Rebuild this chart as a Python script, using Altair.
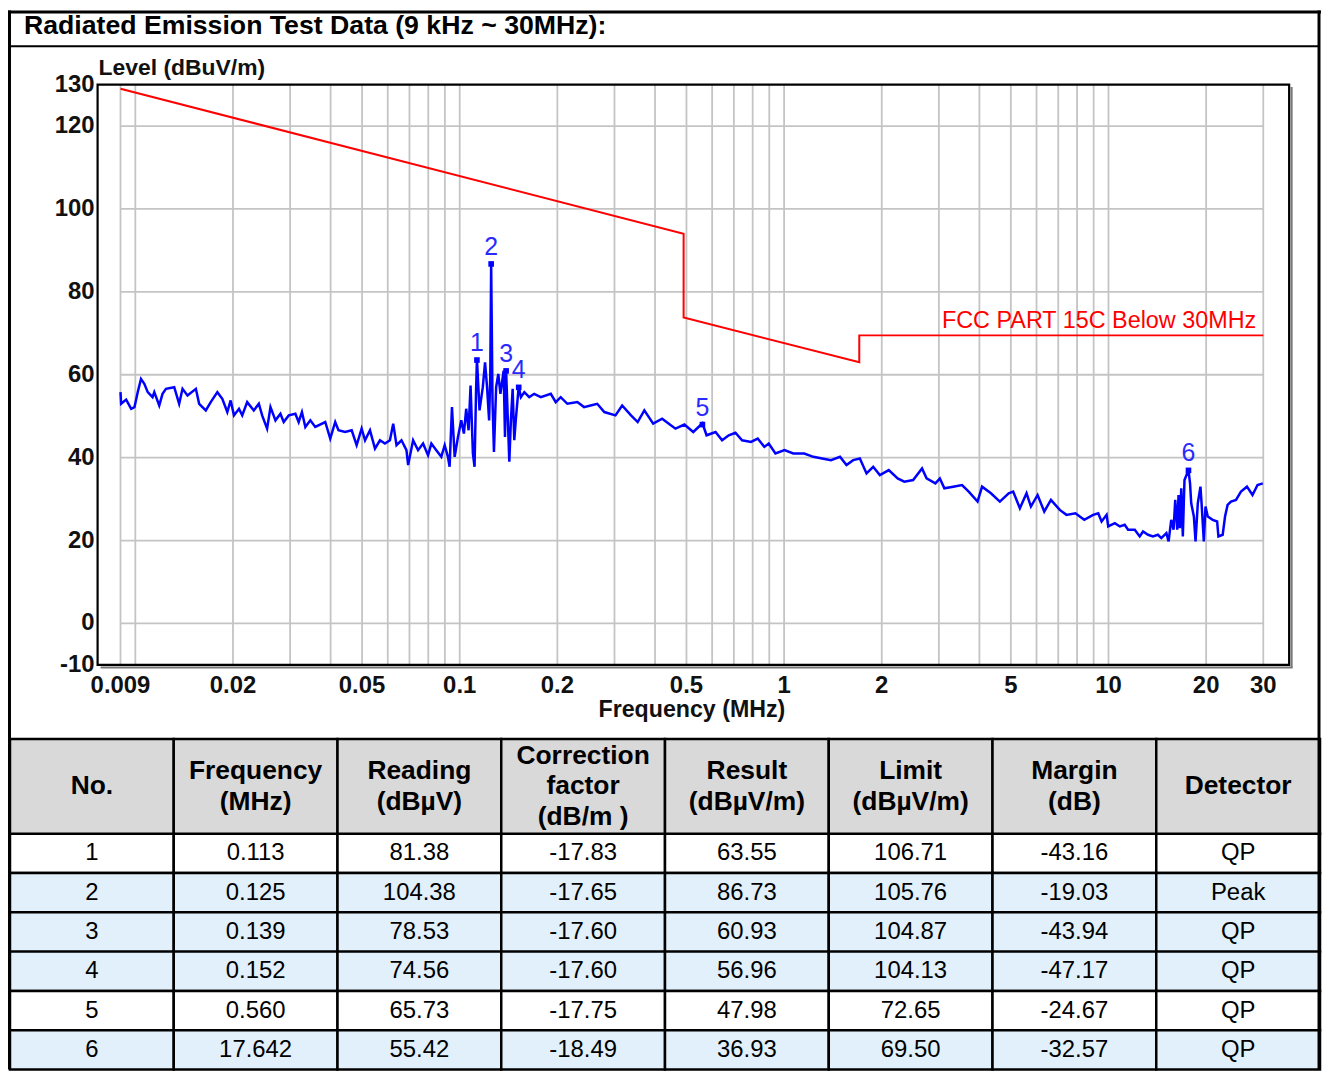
import altair as alt
import pandas as pd

# ---------------- data ----------------
trace_freq = [
    0.009, 0.00904, 0.00937, 0.00971, 0.00994, 0.01017, 0.01041, 0.01066, 0.01092, 0.0113,
    0.01144, 0.01185, 0.01213, 0.01243, 0.01318, 0.01365, 0.01398, 0.01448, 0.01537, 0.01573,
    0.01649, 0.01708, 0.0179, 0.01854, 0.01921, 0.01967, 0.02014, 0.02087, 0.02136, 0.02212,
    0.02319, 0.02403, 0.0246, 0.02548, 0.0261, 0.02704, 0.02801, 0.02867, 0.02971, 0.03114,
    0.03188, 0.03263, 0.03343, 0.03463, 0.03587, 0.0385, 0.03989, 0.04132, 0.04229, 0.04433,
    0.04645, 0.04811, 0.04985, 0.05107, 0.05289, 0.0548, 0.05677, 0.05882, 0.06093, 0.06237,
    0.06385, 0.06614, 0.06852, 0.06934, 0.07183, 0.07441, 0.07709, 0.07986, 0.08177, 0.08469,
    0.08775, 0.08988, 0.09198, 0.09307, 0.09464, 0.09648, 0.09876, 0.1011, 0.103, 0.1047,
    0.1065, 0.108, 0.1098, 0.1111, 0.1123, 0.113, 0.1151, 0.1178, 0.1197, 0.1214,
    0.1232, 0.1242, 0.125, 0.1262, 0.1275, 0.1295, 0.1315, 0.1335, 0.1366, 0.1379,
    0.139, 0.1422, 0.1438, 0.1456, 0.1473, 0.149, 0.152, 0.1544, 0.1582, 0.1638,
    0.1697, 0.1778, 0.1909, 0.1977, 0.2048, 0.2147, 0.2305, 0.2417, 0.2532, 0.2654,
    0.2791, 0.3021, 0.3168, 0.3373, 0.3537, 0.3708, 0.3948, 0.4208, 0.4412, 0.4625,
    0.4927, 0.5247, 0.56, 0.5768, 0.6147, 0.644, 0.6752, 0.7079, 0.7421, 0.7907,
    0.8292, 0.8694, 0.8967, 0.9405, 1.0026, 1.0674, 1.154, 1.2303, 1.3095, 1.395,
    1.487, 1.557, 1.633, 1.712, 1.795, 1.882, 1.973, 2.102, 2.239, 2.347,
    2.499, 2.662, 2.749, 2.927, 3.021, 3.119, 3.321, 3.536, 3.708, 3.948,
    4.076, 4.341, 4.625, 4.925, 5.084, 5.331, 5.589, 5.766, 6.046, 6.338,
    6.646, 7.077, 7.421, 7.907, 8.42, 8.967, 9.297, 9.522, 9.866, 9.98,
    10.46, 10.84, 11.22, 11.49, 12.05, 12.48, 12.78, 13.24, 13.71, 14.2,
    14.55, 15.08, 15.32, 15.61, 15.87, 16.06, 16.29, 16.44, 16.6, 16.76,
    16.95, 17.15, 17.642, 17.84, 17.99, 18.33, 18.55, 18.85, 19.21, 19.39,
    19.67, 19.91, 20.23, 20.95, 21.62, 21.82, 22.49, 22.87, 23.29, 23.86,
    24.72, 25.61, 26.72, 27.79, 28.8, 29.9,
]
trace_level = [
    55.8, 53.0, 54.0, 51.8, 52.2, 55.8, 59.0, 57.8, 55.8, 54.6,
    55.8, 52.6, 55.4, 56.6, 57.0, 53.0, 56.6, 55.0, 56.6, 53.0,
    51.4, 53.4, 55.8, 54.2, 51.0, 53.8, 50.2, 51.8, 50.2, 53.4,
    51.4, 53.0, 50.2, 47.0, 52.2, 49.0, 50.6, 48.6, 50.2, 50.6,
    48.6, 51.0, 47.4, 49.0, 47.4, 48.6, 44.6, 48.6, 46.6, 46.2,
    46.6, 43.0, 47.0, 44.2, 46.6, 42.2, 44.2, 43.4, 44.2, 48.2,
    43.0, 44.2, 41.8, 38.2, 44.2, 41.8, 43.4, 40.6, 43.4, 41.8,
    40.2, 43.0, 40.2, 37.8, 52.2, 40.2, 45.0, 49.0, 45.8, 51.8,
    46.6, 57.4, 41.0, 37.8, 56.2, 63.8, 51.4, 57.0, 63.0, 57.0,
    49.0, 59.4, 86.7, 53.8, 41.4, 57.0, 60.2, 55.4, 61.0, 45.0,
    61.0, 39.0, 49.0, 56.6, 44.2, 49.4, 57.2, 54.6, 55.8, 54.6,
    55.4, 54.6, 55.4, 53.4, 54.6, 53.0, 53.4, 52.2, 52.6, 53.0,
    51.0, 50.2, 52.6, 50.2, 48.6, 51.4, 48.2, 49.4, 48.2, 47.0,
    48.0, 46.2, 48.3, 45.4, 46.2, 44.2, 45.4, 46.0, 44.2, 43.8,
    44.6, 42.6, 43.4, 41.0, 41.8, 41.0, 41.0, 40.2, 39.8, 39.4,
    40.2, 38.2, 39.4, 39.8, 36.2, 37.8, 35.8, 37.0, 35.0, 34.2,
    34.6, 37.4, 35.0, 33.8, 35.0, 32.6, 33.0, 33.4, 31.8, 29.4,
    33.0, 31.4, 29.4, 31.4, 31.8, 27.8, 31.4, 28.2, 31.0, 27.0,
    29.8, 27.4, 26.2, 26.6, 25.0, 26.2, 26.6, 24.6, 26.2, 23.4,
    24.2, 23.4, 23.8, 22.6, 22.6, 21.0, 22.2, 21.4, 21.0, 21.4,
    20.6, 21.8, 19.8, 25.0, 22.6, 29.8, 22.6, 31.0, 23.0, 32.6,
    21.0, 34.6, 37.0, 33.8, 29.0, 25.8, 19.8, 29.0, 33.0, 28.2,
    19.8, 28.2, 25.8, 25.0, 24.6, 21.0, 21.4, 25.8, 28.6, 29.4,
    29.8, 31.8, 33.0, 31.0, 33.4, 33.8,
]

limit_freq = [0.009, 0.49, 0.49, 1.705, 1.705, 30]
limit_level = [129.0, 94.0, 73.8, 63.0, 69.5, 69.5]
limit_name = "FCC PART 15C Below 30MHz"

marker_no = ["1", "2", "3", "4", "5", "6"]
marker_freq = [0.113, 0.125, 0.139, 0.152, 0.560, 17.642]
marker_result = [63.55, 86.73, 60.93, 56.96, 47.98, 36.93]

x_ticks = [0.009, 0.02, 0.05, 0.1, 0.2, 0.5, 1, 2, 5, 10, 20, 30]
x_tick_labels = ["0.009", "0.02", "0.05", "0.1", "0.2", "0.5", "1", "2", "5", "10", "20", "30"]
y_ticks = [130, 120, 100, 80, 60, 40, 20, 0, -10]
x_grid = [0.009, 0.01, 0.02, 0.03, 0.04, 0.05, 0.06, 0.07, 0.08, 0.09,
          0.1, 0.2, 0.3, 0.4, 0.5, 0.6, 0.7, 0.8, 0.9,
          1, 2, 3, 4, 5, 6, 7, 8, 9, 10, 20, 30]
y_grid = [-10, 0, 20, 40, 60, 80, 100, 120]

title_text = "Radiated Emission Test Data (9 kHz ~ 30MHz):"
y_title = "Level (dBuV/m)"
x_title = "Frequency (MHz)"

table_header = ["No.", "Frequency\n(MHz)", "Reading\n(dBµV)", "Correction\nfactor\n(dB/m )",
                "Result\n(dBµV/m)", "Limit\n(dBµV/m)", "Margin\n(dB)", "Detector"]
t_no = ["1", "2", "3", "4", "5", "6"]
t_freq = ["0.113", "0.125", "0.139", "0.152", "0.560", "17.642"]
t_reading = ["81.38", "104.38", "78.53", "74.56", "65.73", "55.42"]
t_corr = ["-17.83", "-17.65", "-17.60", "-17.60", "-17.75", "-18.49"]
t_result = ["63.55", "86.73", "60.93", "56.96", "47.98", "36.93"]
t_limit = ["106.71", "105.76", "104.87", "104.13", "72.65", "69.50"]
t_margin = ["-43.16", "-19.03", "-43.94", "-47.17", "-24.67", "-32.57"]
t_det = ["QP", "Peak", "QP", "QP", "QP", "QP"]

# ---------------- styles / layout ----------------
W, H = 1320, 1064
ARIAL = "Liberation Sans, Arial, sans-serif"
BLUE = "#0000ff"
RED = "#ff0000"
GRID = "#c4c4c4"
INK = "#111111"
ROW_FILLS = ["#ffffff", "#e1f0fb", "#e1f0fb", "#e1f0fb", "#ffffff", "#e1f0fb"]

XS = alt.Scale(type="log", domain=[0.009, 30], range=[113, 1261], nice=False)
YS = alt.Scale(domain=[-10, 130], range=[657.5, 74.5], nice=False, zero=False)
ONE = pd.DataFrame({"a": [0]})


def hrule(y, x1, x2, w, color="black"):
    return alt.Chart(ONE).mark_rule(color=color, strokeWidth=w).encode(
        x=alt.value(x1), x2=alt.value(x2), y=alt.value(y))


def vrule(x, y1, y2, w, color="black"):
    return alt.Chart(ONE).mark_rule(color=color, strokeWidth=w).encode(
        x=alt.value(x), y=alt.value(y1), y2=alt.value(y2))


# ---------------- plot ----------------
trace_df = pd.DataFrame({"f": trace_freq, "v": trace_level})
limit_df = pd.DataFrame({"f": limit_freq, "v": limit_level, "i": range(len(limit_freq))})
marker_df = pd.DataFrame({"f": marker_freq, "v": marker_result, "no": marker_no})
xg_df = pd.DataFrame({"f": x_grid, "lo": -10, "hi": 130})
yg_df = pd.DataFrame({"v": y_grid, "f0": 0.009, "f1": 30})
xt_df = pd.DataFrame({"f": x_ticks, "label": x_tick_labels})
yt_df = pd.DataFrame({"v": y_ticks, "label": [str(t) for t in y_ticks]})
fcc_df = pd.DataFrame({"f": [30], "v": [69.5], "label": [limit_name]})

X = lambda fld: alt.X(fld, scale=XS, axis=None)
Y = lambda fld: alt.Y(fld, scale=YS, axis=None)

frame_bg = alt.Chart(ONE).mark_rect(fill="white").encode(
    x=alt.value(90), x2=alt.value(1287), y=alt.value(74.5), y2=alt.value(657.5))

grid_v = alt.Chart(xg_df).mark_rule(color=GRID, strokeWidth=1.8).encode(
    x=X("f:Q"), y=Y("lo:Q"), y2="hi:Q")
grid_h = alt.Chart(yg_df).mark_rule(color=GRID, strokeWidth=1.8).encode(
    x=X("f0:Q"), x2="f1:Q", y=Y("v:Q"))

limit_line = alt.Chart(limit_df).mark_line(color=RED, strokeWidth=2).encode(
    x=X("f:Q"), y=Y("v:Q"), order="i:Q")
trace_line = alt.Chart(trace_df).mark_line(color=BLUE, strokeWidth=2.5, strokeJoin="miter").encode(
    x=X("f:Q"), y=Y("v:Q"))
markers = alt.Chart(marker_df).mark_square(color=BLUE, size=32, opacity=1).encode(
    x=X("f:Q"), y=Y("v:Q"))
marker_labels = alt.Chart(marker_df).mark_text(
    font=ARIAL, fontSize=25, color="#2a2aff", dy=-17, baseline="middle").encode(
    x=X("f:Q"), y=Y("v:Q"), text="no:N")
fcc_label = alt.Chart(fcc_df).mark_text(
    font=ARIAL, fontSize=23.5, color=RED, align="right", baseline="alphabetic", dx=-7, dy=-7).encode(
    x=X("f:Q"), y=Y("v:Q"), text="label:N")
x_labels = alt.Chart(xt_df).mark_text(
    font=ARIAL, fontSize=24, fontWeight="bold", color=INK, baseline="middle").encode(
    x=X("f:Q"), y=alt.value(679), text="label:N")
y_labels = alt.Chart(yt_df).mark_text(
    font=ARIAL, fontSize=24, fontWeight="bold", color=INK, align="right", baseline="middle").encode(
    x=alt.value(87), y=Y("v:Q"), text="label:N")
x_title_m = alt.Chart(ONE).mark_text(
    font=ARIAL, fontSize=23.3, fontWeight="bold", color=INK, baseline="middle", text=x_title).encode(
    x=alt.value(687), y=alt.value(703))
y_title_m = alt.Chart(ONE).mark_text(
    font=ARIAL, fontSize=23, fontWeight="bold", color=INK, align="left", baseline="middle", text=y_title).encode(
    x=alt.value(91), y=alt.value(58))

frame = alt.Chart(ONE).mark_rect(fill=None, stroke="black", strokeWidth=2.2).encode(
    x=alt.value(90), x2=alt.value(1287), y=alt.value(74.5), y2=alt.value(657.5))
shadow_r = vrule(1289.5, 77, 660, 2, "#777777")
shadow_b = hrule(660, 93, 1290.5, 2, "#777777")

plot = alt.layer(frame_bg, grid_v, grid_h, limit_line, trace_line, markers, marker_labels,
                 fcc_label, x_labels, y_labels)

# ---------------- table ----------------
rows = []
cols_data = [t_no, t_freq, t_reading, t_corr, t_result, t_limit, t_margin, t_det]
for r in range(6):
    for c, col in enumerate(table_header):
        rows.append({"col": col, "row": r + 1, "text": cols_data[c][r], "fill": ROW_FILLS[r]})
cells_df = pd.DataFrame(rows)
head_df = pd.DataFrame({"col": table_header,
                        "lines": [h.count("\n") + 1 for h in table_header]})

TX = alt.Scale(domain=table_header, range=[2, 1318], paddingInner=0, paddingOuter=0)
TY = alt.Scale(domain=[1, 2, 3, 4, 5, 6], range=[827, 1064], paddingInner=0, paddingOuter=0)

cell_rect = alt.Chart(cells_df).mark_rect(stroke="black", strokeWidth=2.5).encode(
    x=alt.X("col:N", scale=TX, axis=None),
    y=alt.Y("row:O", scale=TY, axis=None),
    fill=alt.Fill("fill:N", scale=None))
cell_text = alt.Chart(cells_df).mark_text(
    font=ARIAL, fontSize=24, color="black", baseline="middle").encode(
    x=alt.X("col:N", scale=TX, axis=None),
    y=alt.Y("row:O", scale=TY, axis=None),
    text="text:N")
head_rect = alt.Chart(head_df).mark_rect(fill="#d9d9d9", stroke="black", strokeWidth=2.5).encode(
    x=alt.X("col:N", scale=TX, axis=None), y=alt.value(732), y2=alt.value(827))

LH = 30.5
head_layers = []
for n, ytop in [(1, 779.5), (2, 779.5 - LH / 2), (3, 779.5 - LH)]:
    head_layers.append(
        alt.Chart(head_df).transform_filter(alt.datum.lines == n).mark_text(
            font=ARIAL, fontSize=26.5, fontWeight="bold", color="black", baseline="middle",
            lineBreak="\n", lineHeight=LH).encode(
            x=alt.X("col:N", scale=TX, axis=None), y=alt.value(ytop), text="col:N"))

table = alt.layer(cell_rect, cell_text, head_rect, *head_layers)

# ---------------- page decorations ----------------
title_m = alt.Chart(ONE).mark_text(
    font=ARIAL, fontSize=26.8, fontWeight="bold", color="black", align="left", baseline="middle",
    text=title_text).encode(x=alt.value(16), y=alt.value(16))

deco = alt.layer(
    hrule(1.5, 0, 1319, 3), vrule(1.5, 0, 1064, 3), vrule(1317, 0, 1064, 3),
    hrule(36, 0, 1318, 2), title_m, x_title_m, y_title_m, shadow_r, shadow_b, frame)

chart = alt.layer(plot, table, deco).resolve_scale(
    x="independent", y="independent").properties(
    width=W, height=H, autosize=alt.AutoSizeParams(type="none"), padding=0
).configure_view(strokeWidth=0)

chart.save("out.html", embed_options={"renderer": "svg", "actions": False})
